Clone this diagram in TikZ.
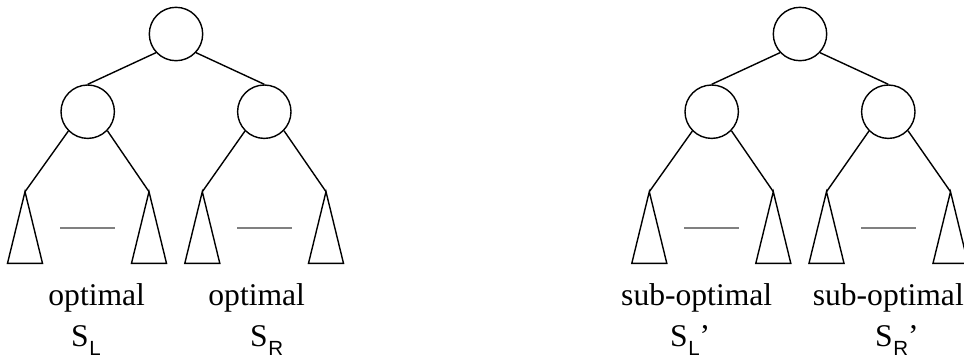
\documentclass[tikz,border=0pt]{standalone}
\usepackage{fontspec}
\setmainfont{Liberation Serif}
\newfontfamily\subsans{Liberation Sans}
\newcommand{\subsc}[1]{\kern0.5pt\raisebox{-9.5pt}{\fontsize{20.5}{20.5}\selectfont\subsans #1}}
\begin{document}
\begin{tikzpicture}[x=1pt,y=-1pt,
  tnode/.style={circle, draw, line width=1.4pt, minimum size=53.4pt, inner sep=0pt},
  edge/.style={line width=1.4pt},
  subtree/.style={draw, line width=1.4pt, line join=miter},
  sepline/.style={draw=gray, line width=2pt},
  lbl/.style={font=\fontsize{31.6}{36}\selectfont, inner sep=0pt, anchor=base},
  slbl/.style={font=\fontsize{31.6}{36}\selectfont, inner sep=0pt, anchor=base west}]
\useasboundingbox (0,0) rectangle (964,360);

% ---------- left tree ----------
\node[tnode] (r1) at (176,34) {};
\node[tnode] (a1) at (87.7,111.7) {};
\node[tnode] (b1) at (264.3,111.7) {};
\coordinate (t11) at (25,191.7);
\coordinate (t12) at (149,191.7);
\coordinate (t13) at (202.3,191.7);
\coordinate (t14) at (326,191.7);
\draw[edge] (r1.223) -- (a1.north);
\draw[edge] (r1.317) -- (b1.north);
\draw[edge] (a1.225) -- (t11);
\draw[edge] (a1.316) -- (t12);
\draw[edge] (b1.225) -- (t13);
\draw[edge] (b1.316) -- (t14);
\foreach \t in {t11,t12,t13,t14}
  \draw[subtree] (\t) -- ++(-17.5,71.6) -- ++(35,0) -- cycle;
\coordinate (g11a) at (60,227.7);  \coordinate (g11b) at (115,227.7);
\coordinate (g12a) at (237.3,227.7); \coordinate (g12b) at (292,227.7);
\draw[sepline] (g11a) -- (g11b);
\draw[sepline] (g12a) -- (g12b);
\node[lbl] (o1) at (96.7,305) {optimal};
\node[lbl] (o2) at (256.7,305) {optimal};
\node[slbl] (s1) at (71,346) {S\subsc{L}};
\node[slbl] (s2) at (250,346) {S\subsc{R}};

% ---------- right tree ----------
\node[tnode] (r2) at (800,34) {};
\node[tnode] (a2) at (711.7,111.7) {};
\node[tnode] (b2) at (888.3,111.7) {};
\coordinate (t21) at (649.3,191.7);
\coordinate (t22) at (773.3,191.7);
\coordinate (t23) at (826.5,191.7);
\coordinate (t24) at (950.5,191.7);
\draw[edge] (r2.223) -- (a2.north);
\draw[edge] (r2.317) -- (b2.north);
\draw[edge] (a2.225) -- (t21);
\draw[edge] (a2.316) -- (t22);
\draw[edge] (b2.225) -- (t23);
\draw[edge] (b2.316) -- (t24);
\foreach \t in {t21,t22,t23,t24}
  \draw[subtree] (\t) -- ++(-17.5,71.6) -- ++(35,0) -- cycle;
\coordinate (g21a) at (684,227.7);  \coordinate (g21b) at (739,227.7);
\coordinate (g22a) at (861,227.7); \coordinate (g22b) at (916,227.7);
\draw[sepline] (g21a) -- (g21b);
\draw[sepline] (g22a) -- (g22b);
\node[lbl] (o3) at (696.7,305) {sub-optimal};
\node[lbl] (o4) at (888.3,305) {sub-optimal};
\node[slbl] (s3) at (670,346) {S\subsc{L}’};
\node[slbl] (s4) at (875,346) {S\subsc{R}’};
\end{tikzpicture}
\end{document}
